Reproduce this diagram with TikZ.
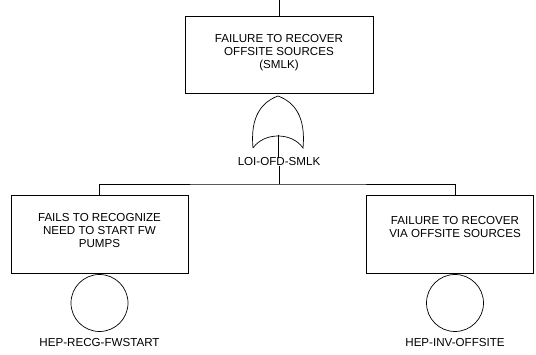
\documentclass[tikz,border=0pt]{standalone}
\usepackage{fontspec}
\setmainfont{Liberation Sans}
\begin{document}
\begin{tikzpicture}[x=1pt,y=-1pt,line width=0.7pt,
  box/.style={draw,inner sep=0pt,anchor=north west},
  txt/.style={anchor=north,align=center,inner sep=0pt,font=\fontsize{11.6}{13}\selectfont},
  lbl/.style={inner sep=0pt,font=\fontsize{11.6}{13}\selectfont},
  evt/.style={draw,circle,minimum size=57pt,inner sep=0pt}]
\useasboundingbox (0,0) rectangle (536,355);
\coordinate (topin) at (279,0);
% top box
\node[box,minimum width=188pt,minimum height=77pt] (topbox) at (185,16) {};
\node[txt] (toptxt) at (279,34) {FAILURE TO RECOVER\\OFFSITE SOURCES\\(SMLK)};
% OR gate
\coordinate (gtop) at (278,96);
\coordinate (gl) at (253,148);
\coordinate (gr) at (303,148);
\coordinate (gin) at (278,135);
\draw (gl) .. controls (250,116) and (262,102) .. (gtop)
      .. controls (294,102) and (306,116) .. (gr)
      .. controls (292,132) and (264,132) .. (gl);
\node[lbl] (glbl) at (279,162) {LOI-OFD-SMLK};
\draw (topin) -- (topbox.north -| topin);
\draw (gin) -- (glbl.north -| gin);
\coordinate (bar) at (279,184);
\draw (glbl.south -| bar) -- (bar);
% left branch
\node[box,minimum width=177pt,minimum height=78pt] (lbox) at (11,195) {};
\node[txt] (ltxt) at (99.5,213) {FAILS TO RECOGNIZE\\NEED TO START FW\\PUMPS};
\node[evt] (lcirc) at (99.5,303) {};
\node[lbl] (llbl) at (99.5,343) {HEP-RECG-FWSTART};
% right branch
\node[box,minimum width=167pt,minimum height=78pt] (rbox) at (366,195) {};
\node[txt] (rtxt) at (455,216) {FAILURE TO RECOVER\\VIA OFFSITE SOURCES};
\node[evt] (rcirc) at (455,303) {};
\node[lbl] (rlbl) at (455,343) {HEP-INV-OFFSITE};
% connectors
\draw (lbox.north -| ltxt) |- (bar) -| (rtxt.north |- rbox.north);
\end{tikzpicture}
\end{document}
